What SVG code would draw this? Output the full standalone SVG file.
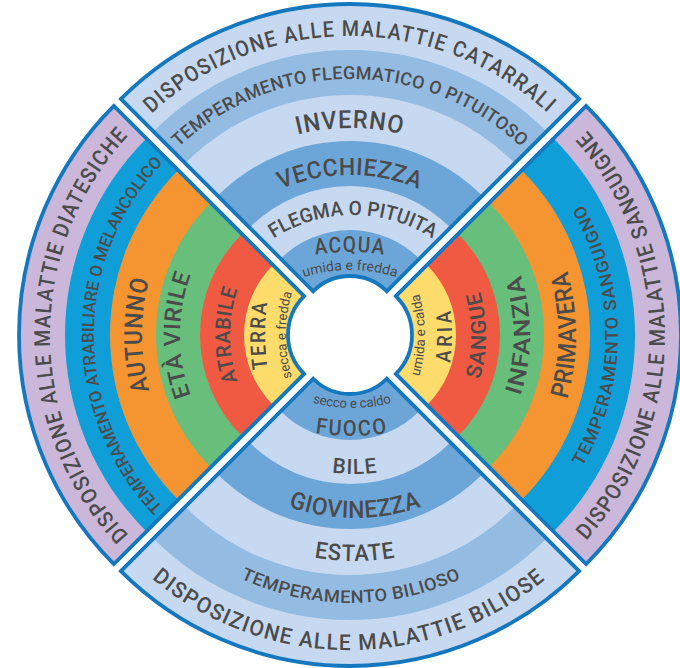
<svg xmlns="http://www.w3.org/2000/svg" width="680" height="668" viewBox="0 0 680 668">
<defs>
<style>
.lt{fill:#C6D9F1}.md{fill:#94BCE3}.dk{fill:#6CA6D9}.pu{fill:#CAB7D9}.cy{fill:#0F9ED8}.or{fill:#F49532}.gr{fill:#68BE7B}.re{fill:#F05A43}.ye{fill:#FDDC6C}
.ol{fill:none;stroke:#1578BF;stroke-width:3.8;stroke-linejoin:miter}
.tx{font-family:Roboto,'Liberation Sans',sans-serif;fill:#4b4b4b;text-anchor:middle;font-weight:500}
.sm{font-weight:400}
</style>
<clipPath id="cT"><path d="M120.9,105.9 A324,324 0 0 1 579.1,105.9 L386.77,298.23 A52,52 0 0 0 313.23,298.23 Z"/></clipPath>
<clipPath id="cB"><path d="M579.1,564.1 A324,324 0 0 1 120.9,564.1 L313.23,371.77 A52,52 0 0 0 386.77,371.77 Z"/></clipPath>
<clipPath id="cL"><path d="M120.9,564.1 A324,324 0 0 1 120.9,105.9 L311.11,296.11 A55,55 0 0 0 311.11,373.89 Z"/></clipPath>
<clipPath id="cR"><path d="M579.1,105.9 A324,324 0 0 1 579.1,564.1 L388.89,373.89 A55,55 0 0 0 388.89,296.11 Z"/></clipPath>
<path id="pT1" d="M58,335 A292,292 0 0 1 642,335"/>
<path id="pT2" d="M101,335 A249,249 0 0 1 599,335"/>
<path id="pT3" d="M135,350 A215,215 0 0 1 565,350"/>
<path id="pT4" d="M175,357 A175,175 0 0 1 525,357"/>
<path id="pT5" d="M208,367 A145,145 0 0 1 498,367"/>
<path id="pT6" d="M120,489 A230,230 0 0 1 580,489"/>
<path id="pT7" d="M200,427 A150,150 0 0 1 500,427"/>
<path id="pB1" d="M202,251 A150,150 0 0 0 502,251"/>
<path id="pB2" d="M122,199 A230,230 0 0 0 582,199"/>
<path id="pB3" d="M185,297 A170,170 0 0 0 525,297"/>
<path id="pB4" d="M155,311 A200,200 0 0 0 555,311"/>
<path id="pB5" d="M120,319 A235,235 0 0 0 590,319"/>
<path id="pB6" d="M90,335 A261,261 0 0 0 612,335"/>
<path id="pB7" d="M41,335 A308,308 0 0 0 657,335"/>
<path id="pL1" d="M350,628 A293,293 0 0 1 350,42"/>
<path id="pL2" d="M350,584 A249,249 0 0 1 350,86"/>
<path id="pL3" d="M364,550 A215,215 0 0 1 364,120"/>
<path id="pL4" d="M362,510 A175,175 0 0 1 362,160"/>
<path id="pL5" d="M382,480 A145,145 0 0 1 382,190"/>
<path id="pL6" d="M502,565 A230,230 0 0 1 502,105"/>
<path id="pL7" d="M443,485 A150,150 0 0 1 443,185"/>
<path id="pR1" d="M268,485 A150,150 0 0 0 268,185"/>
<path id="pR2" d="M215,565 A230,230 0 0 0 215,105"/>
<path id="pR3" d="M319,495 A160,160 0 0 0 319,175"/>
<path id="pR4" d="M328,530 A195,195 0 0 0 328,140"/>
<path id="pR5" d="M334,570 A235,235 0 0 0 334,100"/>
<path id="pR6" d="M350,596 A261,261 0 0 0 350,74"/>
<path id="pR7" d="M350,643 A308,308 0 0 0 350,27"/>
</defs>
<rect x="0" y="0" width="680" height="668" fill="#ffffff"/>

<g id="quadrant-winter" transform="translate(0,-7)">
<g clip-path="url(#cT)">
<circle class="lt" cx="350" cy="335" r="330"/>
<circle class="md" cx="350" cy="335" r="278"/>
<circle class="lt" cx="350" cy="335" r="233"/>
<circle class="dk" cx="350" cy="335" r="187"/>
<circle class="lt" cx="350" cy="335" r="142"/>
<circle class="dk" cx="350" cy="335" r="98"/>
</g>
<path class="ol" d="M120.9,105.9 A324,324 0 0 1 579.1,105.9 L386.77,298.23 A52,52 0 0 0 313.23,298.23 Z"/>
<text class="tx" font-size="22" letter-spacing="1.5"><textPath href="#pT1" startOffset="50%" textLength="436" lengthAdjust="spacingAndGlyphs">DISPOSIZIONE ALLE MALATTIE CATARRALI</textPath></text>
<text class="tx" font-size="18" letter-spacing="0.3"><textPath href="#pT2" startOffset="50%" textLength="378" lengthAdjust="spacingAndGlyphs">TEMPERAMENTO FLEGMATICO O PITUITOSO</textPath></text>
<text class="tx" font-size="25" letter-spacing="1"><textPath href="#pT3" startOffset="50%" textLength="106" lengthAdjust="spacingAndGlyphs">INVERNO</textPath></text>
<text class="tx" font-size="24" letter-spacing="0.5"><textPath href="#pT4" startOffset="50%" textLength="142" lengthAdjust="spacingAndGlyphs">VECCHIEZZA</textPath></text>
<text class="tx" font-size="20"><textPath href="#pT5" startOffset="50%" textLength="168" lengthAdjust="spacingAndGlyphs">FLEGMA O PITUITA</textPath></text>
<text class="tx" font-size="22" letter-spacing="1.5"><textPath href="#pT6" startOffset="50%" textLength="70" lengthAdjust="spacingAndGlyphs">ACQUA</textPath></text>
<text class="tx sm" font-size="14"><textPath href="#pT7" startOffset="50%" textLength="94" lengthAdjust="spacingAndGlyphs">umida e fredda</textPath></text>
</g>

<g id="quadrant-summer" transform="translate(0,7)">
<g clip-path="url(#cB)">
<circle class="lt" cx="350" cy="335" r="330"/>
<circle class="md" cx="350" cy="335" r="278"/>
<circle class="lt" cx="350" cy="335" r="233"/>
<circle class="dk" cx="350" cy="335" r="187"/>
<circle class="lt" cx="350" cy="335" r="142"/>
<circle class="dk" cx="350" cy="335" r="98"/>
</g>
<path class="ol" d="M579.1,564.1 A324,324 0 0 1 120.9,564.1 L313.23,371.77 A52,52 0 0 0 386.77,371.77 Z"/>
<text class="tx sm" font-size="13.5"><textPath href="#pB1" startOffset="50%" textLength="80" lengthAdjust="spacingAndGlyphs">secco e caldo</textPath></text>
<text class="tx" font-size="22" letter-spacing="2"><textPath href="#pB2" startOffset="50%" textLength="74" lengthAdjust="spacingAndGlyphs">FUOCO</textPath></text>
<text class="tx" font-size="21" letter-spacing="1"><textPath href="#pB3" startOffset="50%" textLength="46" lengthAdjust="spacingAndGlyphs">BILE</textPath></text>
<text class="tx" font-size="24" letter-spacing="0.5"><textPath href="#pB4" startOffset="50%" textLength="136" lengthAdjust="spacingAndGlyphs">GIOVINEZZA</textPath></text>
<text class="tx" font-size="23" letter-spacing="1"><textPath href="#pB5" startOffset="50%" textLength="82" lengthAdjust="spacingAndGlyphs">ESTATE</textPath></text>
<text class="tx" font-size="17.5" letter-spacing="0.5"><textPath href="#pB6" startOffset="50%" textLength="228" lengthAdjust="spacingAndGlyphs">TEMPERAMENTO BILIOSO</textPath></text>
<text class="tx" font-size="22" letter-spacing="1.5"><textPath href="#pB7" startOffset="50%" textLength="428" lengthAdjust="spacingAndGlyphs">DISPOSIZIONE ALLE MALATTIE BILIOSE</textPath></text>
</g>

<g id="quadrant-autumn" transform="translate(-7,0)">
<g clip-path="url(#cL)">
<circle class="pu" cx="350" cy="335" r="330"/>
<circle class="cy" cx="350" cy="335" r="278"/>
<circle class="or" cx="350" cy="335" r="233"/>
<circle class="gr" cx="350" cy="335" r="187"/>
<circle class="re" cx="350" cy="335" r="143"/>
<circle class="ye" cx="350" cy="335" r="99"/>
</g>
<path class="ol" d="M120.9,564.1 A324,324 0 0 1 120.9,105.9 L311.11,296.11 A55,55 0 0 0 311.11,373.89 Z"/>
<text class="tx" font-size="22" letter-spacing="1.5"><textPath href="#pL1" startOffset="50%" textLength="440" lengthAdjust="spacingAndGlyphs">DISPOSIZIONE ALLE MALATTIE DIATESICHE</textPath></text>
<text class="tx" font-size="17"><textPath href="#pL2" startOffset="50%" textLength="380" lengthAdjust="spacingAndGlyphs">TEMPERAMENTO ATRABILIARE O MELANCOLICO</textPath></text>
<text class="tx" font-size="25" letter-spacing="1"><textPath href="#pL3" startOffset="50%" textLength="113" lengthAdjust="spacingAndGlyphs">AUTUNNO</textPath></text>
<text class="tx" font-size="23" letter-spacing="0.5"><textPath href="#pL4" startOffset="50%" textLength="124" lengthAdjust="spacingAndGlyphs">ETÀ VIRILE</textPath></text>
<text class="tx" font-size="21" letter-spacing="0.5"><textPath href="#pL5" startOffset="50%" textLength="94" lengthAdjust="spacingAndGlyphs">ATRABILE</textPath></text>
<text class="tx" font-size="21" letter-spacing="2"><textPath href="#pL6" startOffset="50%" textLength="68" lengthAdjust="spacingAndGlyphs">TERRA</textPath></text>
<text class="tx sm" font-size="13.5"><textPath href="#pL7" startOffset="50%" textLength="86" lengthAdjust="spacingAndGlyphs">secca e fredda</textPath></text>
</g>

<g id="quadrant-spring" transform="translate(7,0)">
<g clip-path="url(#cR)">
<circle class="pu" cx="350" cy="335" r="330"/>
<circle class="cy" cx="350" cy="335" r="278"/>
<circle class="or" cx="350" cy="335" r="233"/>
<circle class="gr" cx="350" cy="335" r="187"/>
<circle class="re" cx="350" cy="335" r="143"/>
<circle class="ye" cx="350" cy="335" r="99"/>
</g>
<path class="ol" d="M579.1,105.9 A324,324 0 0 1 579.1,564.1 L388.89,373.89 A55,55 0 0 0 388.89,296.11 Z"/>
<text class="tx sm" font-size="13.5"><textPath href="#pR1" startOffset="50%" textLength="84" lengthAdjust="spacingAndGlyphs">umida e calda</textPath></text>
<text class="tx" font-size="21" letter-spacing="4"><textPath href="#pR2" startOffset="50%" textLength="56" lengthAdjust="spacingAndGlyphs">ARIA</textPath></text>
<text class="tx" font-size="21" letter-spacing="1"><textPath href="#pR3" startOffset="50%" textLength="90" lengthAdjust="spacingAndGlyphs">SANGUE</textPath></text>
<text class="tx" font-size="23" letter-spacing="1"><textPath href="#pR4" startOffset="50%" textLength="124" lengthAdjust="spacingAndGlyphs">INFANZIA</textPath></text>
<text class="tx" font-size="25" letter-spacing="0.5"><textPath href="#pR5" startOffset="50%" textLength="130" lengthAdjust="spacingAndGlyphs">PRIMAVERA</textPath></text>
<text class="tx" font-size="17.5" letter-spacing="1"><textPath href="#pR6" startOffset="50%" textLength="276" lengthAdjust="spacingAndGlyphs">TEMPERAMENTO SANGUIGNO</textPath></text>
<text class="tx" font-size="22" letter-spacing="1.5"><textPath href="#pR7" startOffset="50%" textLength="450" lengthAdjust="spacingAndGlyphs">DISPOSIZIONE ALLE MALATTIE SANGUIGNE</textPath></text>
</g>
</svg>
